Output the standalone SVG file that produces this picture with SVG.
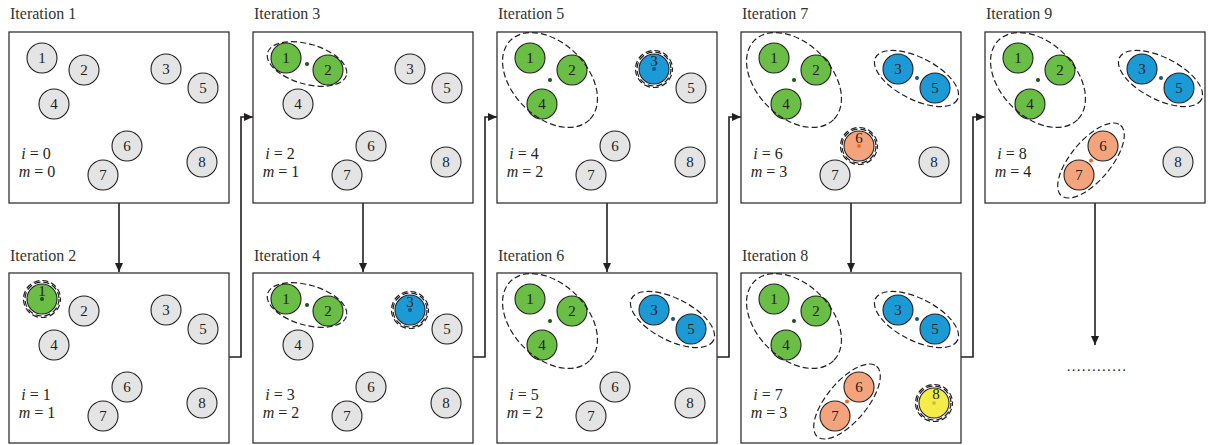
<svg xmlns="http://www.w3.org/2000/svg" width="1208" height="445" viewBox="0 0 1208 445">
<style>
.box{fill:#fff;stroke:#333;stroke-width:1.3}
.t{font-family:"Liberation Serif",serif;font-size:16px;fill:#333}
.v{font-family:"Liberation Serif",serif;font-size:16px;fill:#231f20;text-anchor:middle}
.k{font-family:"Liberation Serif",serif;font-size:15px;fill:#231f20;text-anchor:middle}
.n{stroke:#231f20;stroke-width:1.1;fill:#e4e4e4}
.g{fill:#6abd45}.b{fill:#1b9ad6}.o{fill:#f4a47c}.y{fill:#f5ec4a}
.d{fill:none;stroke:#231f20;stroke-width:1.2;stroke-dasharray:6 3}
.c{fill:none;stroke:#231f20;stroke-width:1.6}
</style>
<defs>
<marker id="ah" markerUnits="userSpaceOnUse" markerWidth="9" markerHeight="8" refX="9" refY="4" orient="auto"><path d="M0,0 L9,4 L0,8 z" fill="#231f20"/></marker>
</defs>
<g id="connectors">
<path class="c" d="M119 203 V272" marker-end="url(#ah)"/>
<path class="c" d="M363 203 V272" marker-end="url(#ah)"/>
<path class="c" d="M607 203 V272" marker-end="url(#ah)"/>
<path class="c" d="M851 203 V272" marker-end="url(#ah)"/>
<path class="c" d="M229 357 H241 V117 H253" marker-end="url(#ah)"/>
<path class="c" d="M473 357 H485 V117 H497" marker-end="url(#ah)"/>
<path class="c" d="M717 357 H729 V117 H741" marker-end="url(#ah)"/>
<path class="c" d="M961 357 H973 V117 H985" marker-end="url(#ah)"/>
<path class="c" d="M1095 203 V345" marker-end="url(#ah)"/>
<text class="k" x="1097" y="371" style="letter-spacing:1.3px">............</text>
</g>
<g id="iter1" transform="translate(9,32)">
<text class="t" x="1" y="-13">Iteration 1</text>
<rect class="box" x="0" y="0" width="220" height="171"/>
<circle class="n" cx="33" cy="26" r="15"/><text class="k" x="33" y="31">1</text>
<circle class="n" cx="75" cy="38" r="15"/><text class="k" x="75" y="43">2</text>
<circle class="n" cx="157" cy="37" r="15"/><text class="k" x="157" y="42">3</text>
<circle class="n" cx="45" cy="72" r="15"/><text class="k" x="45" y="77">4</text>
<circle class="n" cx="194" cy="56" r="15"/><text class="k" x="194" y="61">5</text>
<circle class="n" cx="118" cy="114" r="15"/><text class="k" x="118" y="119">6</text>
<circle class="n" cx="94" cy="143" r="15"/><text class="k" x="94" y="148">7</text>
<circle class="n" cx="193" cy="130" r="15"/><text class="k" x="193" y="135">8</text>
<text class="v" x="27" y="127"><tspan font-style="italic">i</tspan> = 0</text>
<text class="v" x="28" y="145"><tspan font-style="italic">m</tspan> = 0</text>
</g>
<g id="iter2" transform="translate(9,273)">
<text class="t" x="1" y="-12">Iteration 2</text>
<rect class="box" x="0" y="0" width="220" height="170"/>
<circle class="n g" cx="33" cy="26" r="15"/><text class="k" x="33" y="23">1</text><circle cx="33" cy="26" r="2" fill="#1e4d1a"/>
<circle class="d" cx="33" cy="26" r="17"/><circle class="d" cx="33" cy="26" r="18.5" style="stroke-dashoffset:3"/>
<circle class="n" cx="75" cy="38" r="15"/><text class="k" x="75" y="43">2</text>
<circle class="n" cx="157" cy="37" r="15"/><text class="k" x="157" y="42">3</text>
<circle class="n" cx="45" cy="72" r="15"/><text class="k" x="45" y="77">4</text>
<circle class="n" cx="194" cy="56" r="15"/><text class="k" x="194" y="61">5</text>
<circle class="n" cx="118" cy="114" r="15"/><text class="k" x="118" y="119">6</text>
<circle class="n" cx="94" cy="143" r="15"/><text class="k" x="94" y="148">7</text>
<circle class="n" cx="193" cy="130" r="15"/><text class="k" x="193" y="135">8</text>
<text class="v" x="27" y="127"><tspan font-style="italic">i</tspan> = 1</text>
<text class="v" x="28" y="145"><tspan font-style="italic">m</tspan> = 1</text>
</g>
<g id="iter3" transform="translate(253,32)">
<text class="t" x="1" y="-13">Iteration 3</text>
<rect class="box" x="0" y="0" width="220" height="171"/>
<circle class="n g" cx="33" cy="26" r="15"/><text class="k" x="33" y="31">1</text>
<circle class="n g" cx="75" cy="38" r="15"/><text class="k" x="75" y="43">2</text>
<ellipse class="d" cx="54" cy="32" rx="41" ry="20" transform="rotate(16 54 32)"/>
<circle cx="54" cy="32" r="2" fill="#1e4d1a"/>
<circle class="n" cx="157" cy="37" r="15"/><text class="k" x="157" y="42">3</text>
<circle class="n" cx="45" cy="72" r="15"/><text class="k" x="45" y="77">4</text>
<circle class="n" cx="194" cy="56" r="15"/><text class="k" x="194" y="61">5</text>
<circle class="n" cx="118" cy="114" r="15"/><text class="k" x="118" y="119">6</text>
<circle class="n" cx="94" cy="143" r="15"/><text class="k" x="94" y="148">7</text>
<circle class="n" cx="193" cy="130" r="15"/><text class="k" x="193" y="135">8</text>
<text class="v" x="27" y="127"><tspan font-style="italic">i</tspan> = 2</text>
<text class="v" x="28" y="145"><tspan font-style="italic">m</tspan> = 1</text>
</g>
<g id="iter4" transform="translate(253,273)">
<text class="t" x="1" y="-12">Iteration 4</text>
<rect class="box" x="0" y="0" width="220" height="170"/>
<circle class="n g" cx="33" cy="26" r="15"/><text class="k" x="33" y="31">1</text>
<circle class="n g" cx="75" cy="38" r="15"/><text class="k" x="75" y="43">2</text>
<ellipse class="d" cx="54" cy="32" rx="41" ry="20" transform="rotate(16 54 32)"/>
<circle cx="54" cy="32" r="2" fill="#1e4d1a"/>
<circle class="n b" cx="157" cy="37" r="15"/><text class="k" x="157" y="34">3</text><circle cx="157" cy="37" r="2" fill="#15557e"/>
<circle class="d" cx="157" cy="37" r="17"/><circle class="d" cx="157" cy="37" r="18.5" style="stroke-dashoffset:3"/>
<circle class="n" cx="45" cy="72" r="15"/><text class="k" x="45" y="77">4</text>
<circle class="n" cx="194" cy="56" r="15"/><text class="k" x="194" y="61">5</text>
<circle class="n" cx="118" cy="114" r="15"/><text class="k" x="118" y="119">6</text>
<circle class="n" cx="94" cy="143" r="15"/><text class="k" x="94" y="148">7</text>
<circle class="n" cx="193" cy="130" r="15"/><text class="k" x="193" y="135">8</text>
<text class="v" x="27" y="127"><tspan font-style="italic">i</tspan> = 3</text>
<text class="v" x="28" y="145"><tspan font-style="italic">m</tspan> = 2</text>
</g>
<g id="iter5" transform="translate(497,32)">
<text class="t" x="1" y="-13">Iteration 5</text>
<rect class="box" x="0" y="0" width="220" height="171"/>
<circle class="n g" cx="33" cy="26" r="15"/><text class="k" x="33" y="31">1</text>
<circle class="n g" cx="75" cy="38" r="15"/><text class="k" x="75" y="43">2</text>
<circle class="n g" cx="45" cy="72" r="15"/><text class="k" x="45" y="77">4</text>
<ellipse class="d" cx="53" cy="48" rx="56" ry="37" transform="rotate(45 53 48)"/>
<circle cx="53" cy="48" r="2" fill="#1e4d1a"/>
<circle class="n b" cx="157" cy="37" r="15"/><text class="k" x="157" y="34">3</text><circle cx="157" cy="37" r="2" fill="#15557e"/>
<circle class="d" cx="157" cy="37" r="17"/><circle class="d" cx="157" cy="37" r="18.5" style="stroke-dashoffset:3"/>
<circle class="n" cx="194" cy="56" r="15"/><text class="k" x="194" y="61">5</text>
<circle class="n" cx="118" cy="114" r="15"/><text class="k" x="118" y="119">6</text>
<circle class="n" cx="94" cy="143" r="15"/><text class="k" x="94" y="148">7</text>
<circle class="n" cx="193" cy="130" r="15"/><text class="k" x="193" y="135">8</text>
<text class="v" x="27" y="127"><tspan font-style="italic">i</tspan> = 4</text>
<text class="v" x="28" y="145"><tspan font-style="italic">m</tspan> = 2</text>
</g>
<g id="iter6" transform="translate(497,273)">
<text class="t" x="1" y="-12">Iteration 6</text>
<rect class="box" x="0" y="0" width="220" height="170"/>
<circle class="n g" cx="33" cy="26" r="15"/><text class="k" x="33" y="31">1</text>
<circle class="n g" cx="75" cy="38" r="15"/><text class="k" x="75" y="43">2</text>
<circle class="n g" cx="45" cy="72" r="15"/><text class="k" x="45" y="77">4</text>
<ellipse class="d" cx="53" cy="48" rx="56" ry="37" transform="rotate(45 53 48)"/>
<circle cx="53" cy="48" r="2" fill="#1e4d1a"/>
<circle class="n b" cx="157" cy="37" r="15"/><text class="k" x="157" y="42">3</text>
<circle class="n b" cx="194" cy="56" r="15"/><text class="k" x="194" y="61">5</text>
<ellipse class="d" cx="175.5" cy="46.5" rx="46" ry="21" transform="rotate(27 175.5 46.5)"/>
<circle cx="176" cy="46" r="2" fill="#15557e"/>
<circle class="n" cx="118" cy="114" r="15"/><text class="k" x="118" y="119">6</text>
<circle class="n" cx="94" cy="143" r="15"/><text class="k" x="94" y="148">7</text>
<circle class="n" cx="193" cy="130" r="15"/><text class="k" x="193" y="135">8</text>
<text class="v" x="27" y="127"><tspan font-style="italic">i</tspan> = 5</text>
<text class="v" x="28" y="145"><tspan font-style="italic">m</tspan> = 2</text>
</g>
<g id="iter7" transform="translate(741,32)">
<text class="t" x="1" y="-13">Iteration 7</text>
<rect class="box" x="0" y="0" width="220" height="171"/>
<circle class="n g" cx="33" cy="26" r="15"/><text class="k" x="33" y="31">1</text>
<circle class="n g" cx="75" cy="38" r="15"/><text class="k" x="75" y="43">2</text>
<circle class="n g" cx="45" cy="72" r="15"/><text class="k" x="45" y="77">4</text>
<ellipse class="d" cx="53" cy="48" rx="56" ry="37" transform="rotate(45 53 48)"/>
<circle cx="53" cy="48" r="2" fill="#1e4d1a"/>
<circle class="n b" cx="157" cy="37" r="15"/><text class="k" x="157" y="42">3</text>
<circle class="n b" cx="194" cy="56" r="15"/><text class="k" x="194" y="61">5</text>
<ellipse class="d" cx="175.5" cy="46.5" rx="46" ry="21" transform="rotate(27 175.5 46.5)"/>
<circle cx="176" cy="46" r="2" fill="#15557e"/>
<circle class="n o" cx="118" cy="114" r="15"/><text class="k" x="118" y="111">6</text><circle cx="118" cy="114" r="2" fill="#f26522"/>
<circle class="d" cx="118" cy="114" r="17"/><circle class="d" cx="118" cy="114" r="18.5" style="stroke-dashoffset:3"/>
<circle class="n" cx="94" cy="143" r="15"/><text class="k" x="94" y="148">7</text>
<circle class="n" cx="193" cy="130" r="15"/><text class="k" x="193" y="135">8</text>
<text class="v" x="27" y="127"><tspan font-style="italic">i</tspan> = 6</text>
<text class="v" x="28" y="145"><tspan font-style="italic">m</tspan> = 3</text>
</g>
<g id="iter8" transform="translate(741,273)">
<text class="t" x="1" y="-12">Iteration 8</text>
<rect class="box" x="0" y="0" width="220" height="170"/>
<circle class="n g" cx="33" cy="26" r="15"/><text class="k" x="33" y="31">1</text>
<circle class="n g" cx="75" cy="38" r="15"/><text class="k" x="75" y="43">2</text>
<circle class="n g" cx="45" cy="72" r="15"/><text class="k" x="45" y="77">4</text>
<ellipse class="d" cx="53" cy="48" rx="56" ry="37" transform="rotate(45 53 48)"/>
<circle cx="53" cy="48" r="2" fill="#1e4d1a"/>
<circle class="n b" cx="157" cy="37" r="15"/><text class="k" x="157" y="42">3</text>
<circle class="n b" cx="194" cy="56" r="15"/><text class="k" x="194" y="61">5</text>
<ellipse class="d" cx="175.5" cy="46.5" rx="46" ry="21" transform="rotate(27 175.5 46.5)"/>
<circle cx="176" cy="46" r="2" fill="#15557e"/>
<circle class="n o" cx="118" cy="114" r="15"/><text class="k" x="118" y="119">6</text>
<circle class="n o" cx="94" cy="143" r="15"/><text class="k" x="94" y="148">7</text>
<ellipse class="d" cx="106" cy="128.5" rx="46" ry="20" transform="rotate(-50 106 128.5)"/>
<circle cx="106" cy="128.5" r="2" fill="#f26522"/>
<circle class="n y" cx="193" cy="130" r="15"/><text class="k" x="195" y="126">8</text><circle cx="193" cy="130" r="2" fill="#c9c43a"/>
<circle class="d" cx="193" cy="130" r="17"/><circle class="d" cx="193" cy="130" r="18.5" style="stroke-dashoffset:3"/>
<text class="v" x="27" y="127"><tspan font-style="italic">i</tspan> = 7</text>
<text class="v" x="28" y="145"><tspan font-style="italic">m</tspan> = 3</text>
</g>
<g id="iter9" transform="translate(985,32)">
<text class="t" x="1" y="-13">Iteration 9</text>
<rect class="box" x="0" y="0" width="220" height="171"/>
<circle class="n g" cx="33" cy="26" r="15"/><text class="k" x="33" y="31">1</text>
<circle class="n g" cx="75" cy="38" r="15"/><text class="k" x="75" y="43">2</text>
<circle class="n g" cx="45" cy="72" r="15"/><text class="k" x="45" y="77">4</text>
<ellipse class="d" cx="53" cy="48" rx="56" ry="37" transform="rotate(45 53 48)"/>
<circle cx="53" cy="48" r="2" fill="#1e4d1a"/>
<circle class="n b" cx="157" cy="37" r="15"/><text class="k" x="157" y="42">3</text>
<circle class="n b" cx="194" cy="56" r="15"/><text class="k" x="194" y="61">5</text>
<ellipse class="d" cx="175.5" cy="46.5" rx="46" ry="21" transform="rotate(27 175.5 46.5)"/>
<circle cx="176" cy="46" r="2" fill="#15557e"/>
<circle class="n o" cx="118" cy="114" r="15"/><text class="k" x="118" y="119">6</text>
<circle class="n o" cx="94" cy="143" r="15"/><text class="k" x="94" y="148">7</text>
<ellipse class="d" cx="106" cy="128.5" rx="46" ry="20" transform="rotate(-50 106 128.5)"/>
<circle cx="106" cy="128.5" r="2" fill="#f26522"/>
<circle class="n" cx="193" cy="130" r="15"/><text class="k" x="193" y="135">8</text>
<text class="v" x="27" y="127"><tspan font-style="italic">i</tspan> = 8</text>
<text class="v" x="28" y="145"><tspan font-style="italic">m</tspan> = 4</text>
</g>
</svg>
